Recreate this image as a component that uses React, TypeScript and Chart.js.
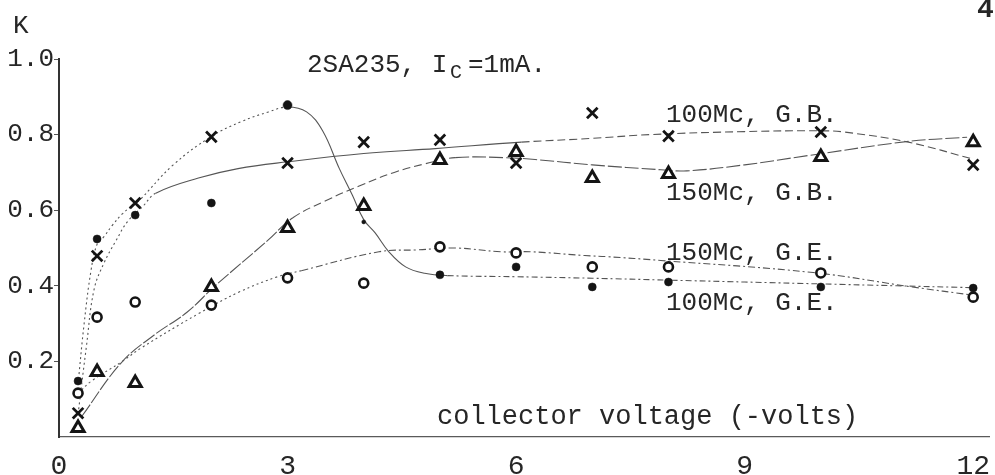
import React, { useEffect, useRef } from "react";
import { Chart, registerables } from "chart.js";

Chart.register(...registerables);

// Collector voltage (-volts) at which K was measured
const voltages = [0.25, 0.5, 1, 2, 3, 4, 5, 6, 7, 8, 10, 12];

// Measured K values, one list per condition
const k100GB = [0.063, 0.479, 0.619, 0.794, 0.725, 0.78, 0.786, 0.725, 0.857, 0.796, 0.807, 0.72];
const k150GB = [0.024, 0.172, 0.143, 0.397, 0.553, 0.611, 0.733, 0.754, 0.685, 0.696, 0.741, 0.78];
const k150GE = [0.116, 0.317, 0.357, 0.349, 0.421, 0.407, 0.503, 0.487, 0.45, 0.45, 0.434, 0.37];
const k100GE = [0.148, 0.524, 0.587, 0.619, 0.878, 0.569, 0.429, 0.45, 0.397, 0.41, 0.397, 0.394];

// Hand-faired curves through each set of measurements
const fit100GBV = [0.25, 0.36, 0.46, 0.59, 0.75, 0.9, 1.1, 1.27, 1.83, 2.35, 3, 4, 4.94, 6.07, 7, 7.76, 9, 10, 10.3, 11.15, 12];
const fit100GBK = [0.06, 0.24, 0.39, 0.46, 0.52, 0.57, 0.61, 0.645, 0.685, 0.71, 0.728, 0.75, 0.763, 0.78, 0.79, 0.8, 0.808, 0.81, 0.807, 0.78, 0.735];

const fit150GBV = [0.3, 0.82, 1.25, 1.68, 2.05, 2.74, 3.07, 3.5, 3.94, 4.4, 4.81, 5.2, 5.86, 6.25, 7, 7.9, 8.24, 9, 9.85, 11.15, 11.92];
const fit150GBK = [0.055, 0.197, 0.27, 0.33, 0.4, 0.52, 0.58, 0.625, 0.664, 0.7, 0.723, 0.739, 0.739, 0.734, 0.72, 0.707, 0.704, 0.72, 0.745, 0.782, 0.793];

const fit150GEV = [0.25, 0.42, 0.83, 1.09, 1.82, 2.37, 2.87, 3.18, 4.2, 4.7, 5.2, 5.8, 6.2, 6.9, 7.2, 7.9, 9.9, 11.2, 12];
const fit150GEK = [0.115, 0.147, 0.2, 0.237, 0.325, 0.384, 0.424, 0.44, 0.49, 0.495, 0.5, 0.49, 0.49, 0.48, 0.477, 0.467, 0.435, 0.397, 0.375];

const fit100GEV = [0.25, 0.33, 0.42, 0.5, 0.59, 0.7, 0.83, 0.95, 1.05, 1.5, 2, 2.4, 2.75, 3, 3.25, 3.46, 3.68, 3.85, 4, 4.15, 4.33, 4.55, 4.8, 5.1, 6, 7, 8, 9, 10, 11, 12];
const fit100GEK = [0.14, 0.3, 0.44, 0.51, 0.53, 0.56, 0.59, 0.61, 0.625, 0.72, 0.795, 0.835, 0.86, 0.873, 0.86, 0.81, 0.71, 0.64, 0.575, 0.54, 0.49, 0.45, 0.433, 0.427, 0.424, 0.42, 0.415, 0.41, 0.405, 0.4, 0.395];

// Axis tick labels
const xTickValues = [0, 3, 6, 9, 12];
const yTickValues = [0.2, 0.4, 0.6, 0.8, 1.0];

const FONT = "'Liberation Mono', 'DejaVu Sans Mono', monospace";
const INK = "#262626";
const MARK = "#141414";
const PENCIL = "#555555";

const pairs = (xs: number[], ys: number[]) => xs.map((x, i) => ({ x, y: ys[i] }));

// dash pattern chosen by the voltage range a curve segment lies in
const dashBy = (ranges: { to: number; dash: number[] }[]) => (ctx: any) => {
  const x = ctx.p0.parsed.x;
  for (const r of ranges) if (x < r.to) return r.dash;
  return ranges[ranges.length - 1].dash;
};

const annotate = {
  id: "annotate",
  afterDraw(chart: any) {
    const { ctx } = chart;
    ctx.save();
    ctx.fillStyle = INK;
    ctx.textBaseline = "alphabetic";
    ctx.textAlign = "left";

    ctx.font = `26px ${FONT}`;
    ctx.fillText("K", 13, 33);

    // title with subscripted C
    ctx.fillText("2SA235, I", 307, 72);
    ctx.font = `20px ${FONT}`;
    ctx.fillText("C", 450, 78);
    ctx.font = `26px ${FONT}`;
    ctx.fillText("=1mA.", 468, 72);

    ctx.fillText("100Mc, G.B.", 666, 122);
    ctx.fillText("150Mc, G.B.", 666, 200);
    ctx.fillText("150Mc, G.E.", 666, 260);
    ctx.fillText("100Mc, G.E.", 666, 310);

    ctx.font = `27px ${FONT}`;
    ctx.fillText("collector voltage (-volts)", 437, 424);

    ctx.font = `bold 28px ${FONT}`;
    ctx.fillText("4", 977, 17);
    ctx.restore();
  },
};

export default function App() {
  const canvasRef = useRef<HTMLCanvasElement | null>(null);

  useEffect(() => {
    const canvas = canvasRef.current;
    if (!canvas) return;

    const marker = (label: string, ys: number[], style: any) => ({
      label,
      data: pairs(voltages, ys),
      showLine: false,
      order: 0,
      clip: false as any,
      borderColor: MARK,
      pointBorderColor: MARK,
      ...style,
    });

    const curve = (label: string, xs: number[], ys: number[], ranges: { to: number; dash: number[] }[]) => ({
      label,
      data: pairs(xs, ys),
      order: 1,
      pointRadius: 0,
      borderWidth: 1.1,
      borderColor: PENCIL,
      tension: 0.4,
      fill: false,
      segment: { borderDash: dashBy(ranges) },
    });

    const chart = new Chart(canvas, {
      type: "line",
      data: {
        datasets: [
          marker("100Mc, G.B.", k100GB, {
            pointStyle: "crossRot",
            pointRadius: 7.5,
            pointBorderWidth: 2.8,
          }),
          marker("150Mc, G.B.", k150GB, {
            pointStyle: "triangle",
            pointRadius: 7,
            pointBorderWidth: 3,
            pointBackgroundColor: "#ffffff",
          }),
          marker("150Mc, G.E.", k150GE, {
            pointStyle: "circle",
            pointRadius: 4.5,
            pointBorderWidth: 2.6,
            pointBackgroundColor: "#ffffff",
          }),
          marker("100Mc, G.E.", k100GE, {
            pointStyle: "circle",
            pointRadius: [4, 4, 4, 4, 4.5, 2, 4, 4, 4, 4, 4, 4],
            pointBorderWidth: 0.5,
            pointBackgroundColor: MARK,
          }),
          curve("100Mc, G.B. fit", fit100GBV, fit100GBK, [
            { to: 1.2, dash: [2, 3] },
            { to: 5, dash: [] },
            { to: 99, dash: [8, 4] },
          ]),
          curve("150Mc, G.B. fit", fit150GBV, fit150GBK, [
            { to: 3, dash: [14, 2] },
            { to: 5, dash: [8, 4] },
            { to: 99, dash: [14, 3] },
          ]),
          curve("150Mc, G.E. fit", fit150GEV, fit150GEK, [
            { to: 3, dash: [2, 3] },
            { to: 99, dash: [7, 3, 2, 3] },
          ]),
          curve("100Mc, G.E. fit", fit100GEV, fit100GEK, [
            { to: 3, dash: [2, 3] },
            { to: 5, dash: [] },
            { to: 99, dash: [6, 3, 2, 3] },
          ]),
        ],
      },
      options: {
        responsive: false,
        animation: false,
        events: [],
        layout: { autoPadding: false, padding: { top: 59, left: 9, right: 0, bottom: 0 } },
        plugins: {
          legend: { display: false },
          tooltip: { enabled: false },
        },
        scales: {
          x: {
            type: "linear",
            min: 0,
            max: 12.22,
            afterFit: (s: any) => {
              s.height = 38;
            },
            afterBuildTicks: (s: any) => {
              s.ticks = xTickValues.map((v) => ({ value: v }));
            },
            grid: { display: false },
            border: { display: true, color: "#5a5a5a", width: 1.3, dash: [4, 2] },
            ticks: {
              padding: 5,
              color: INK,
              font: { family: FONT, size: 28 },
              maxRotation: 0,
              autoSkip: false,
              callback: (v: any) => String(v),
            },
          },
          y: {
            type: "linear",
            min: 0,
            max: 1,
            afterFit: (s: any) => {
              s.width = 50;
            },
            afterBuildTicks: (s: any) => {
              s.ticks = yTickValues.map((v) => ({ value: v }));
            },
            grid: {
              display: true,
              drawOnChartArea: false,
              drawTicks: true,
              tickLength: 5,
              color: "#555",
            },
            border: { display: true, color: "#333", width: 2, dash: [2, 1] },
            ticks: {
              padding: 0,
              color: INK,
              font: { family: FONT, size: 26 },
              autoSkip: false,
              callback: (v: any) => Number(v).toFixed(1),
            },
          },
        },
      },
      plugins: [annotate],
    });

    return () => chart.destroy();
  }, []);

  return (
    <div
      style={{
        position: "fixed",
        left: 0,
        top: 0,
        width: 995,
        height: 475,
        background: "#ffffff",
      }}
    >
      <canvas ref={canvasRef} width={995} height={475} style={{ display: "block" }} />
    </div>
  );
}
